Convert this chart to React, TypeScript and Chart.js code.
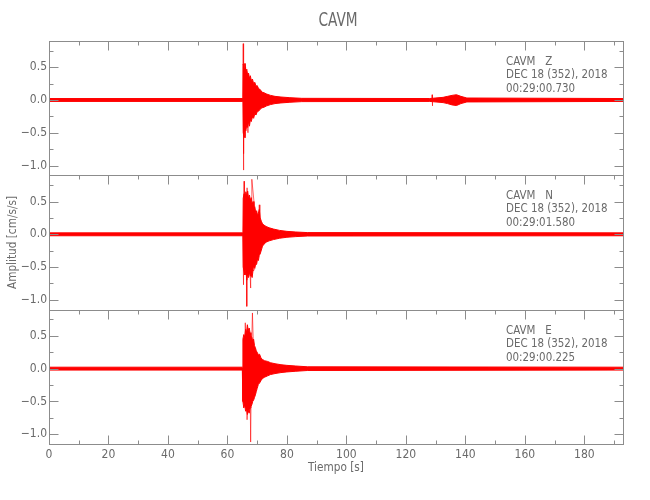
import React, { useEffect, useRef } from "react";
import { Chart, registerables } from "chart.js";

Chart.register(...registerables);

// ---- axis / labels ----
const TITLE = "CAVM";
const X_TITLE = "Tiempo [s]";
const Y_TITLE = "Amplitud [cm/s/s]";
const X_MIN = 0;
const X_MAX = 193;
const Y_MIN = -1.15;
const Y_MAX = 0.9;
const X_TICK_STEP = 20;
const Y_TICK_STEP = 0.5;

const STATION = ["CAVM   Z", "CAVM   N", "CAVM   E"];
const DATES = ["DEC 18 (352), 2018", "DEC 18 (352), 2018", "DEC 18 (352), 2018"];
const TIMES = ["00:29:00.730", "00:29:01.580", "00:29:00.225"];

// ---- Z component: dense envelope + individual spikes ----
const zT = [0, 65.2, 65.3, 65.6, 65.9, 66.2, 66.5, 66.8, 67.1, 67.4, 67.7, 68.0, 68.4, 68.8, 69.2, 69.6, 70.0, 70.5, 71.0, 71.6, 72.3, 73.2, 74.5, 76, 78, 81, 85, 128, 132.5, 134, 135.5, 137, 138.5, 140.5, 193];
const zUp = [0.022, 0.022, 0.55, 0.48, 0.56, 0.42, 0.47, 0.38, 0.41, 0.33, 0.37, 0.30, 0.32, 0.25, 0.27, 0.21, 0.22, 0.17, 0.16, 0.12, 0.11, 0.09, 0.07, 0.055, 0.045, 0.035, 0.025, 0.022, 0.04, 0.055, 0.07, 0.08, 0.055, 0.03, 0.022];
const zLo = [-0.022, -0.022, -0.50, -0.56, -0.44, -0.47, -0.38, -0.42, -0.33, -0.40, -0.30, -0.33, -0.26, -0.28, -0.21, -0.23, -0.18, -0.17, -0.14, -0.12, -0.11, -0.09, -0.07, -0.055, -0.045, -0.035, -0.025, -0.022, -0.04, -0.055, -0.075, -0.085, -0.055, -0.03, -0.022];
const zSpikeT = [65.2, 65.3, 65.35, 65.45, 65.5, 65.6, 65.9, 66.1, 66.9, 67.1, 67.3, 128.7, 128.8, 128.9, 129.0];
const zSpikeV = [0, 0.86, -1.07, 0.70, -0.82, 0.55, -0.58, 0.50, -0.50, 0.30, 0, 0, 0.08, -0.09, 0];

// ---- N component ----
const nT = [0, 65.2, 65.3, 65.6, 65.9, 66.2, 66.5, 66.8, 67.1, 67.4, 67.7, 68.0, 68.3, 68.6, 68.9, 69.2, 69.5, 69.8, 70.1, 70.4, 70.7, 71.0, 71.4, 71.8, 72.3, 73.0, 74.0, 75.5, 77.5, 80, 83, 87, 193];
const nUp = [0.022, 0.022, 0.55, 0.62, 0.50, 0.65, 0.58, 0.66, 0.55, 0.60, 0.52, 0.56, 0.45, 0.50, 0.40, 0.42, 0.33, 0.36, 0.30, 0.32, 0.38, 0.25, 0.20, 0.16, 0.14, 0.12, 0.10, 0.08, 0.06, 0.045, 0.035, 0.026, 0.022];
const nLo = [-0.022, -0.022, -0.50, -0.57, -0.62, -0.55, -0.70, -0.60, -0.66, -0.58, -0.64, -0.62, -0.66, -0.55, -0.50, -0.52, -0.45, -0.46, -0.38, -0.40, -0.32, -0.30, -0.24, -0.18, -0.15, -0.12, -0.10, -0.08, -0.06, -0.045, -0.035, -0.026, -0.022];
const nSpikeT = [65.2, 65.4, 65.6, 65.7, 66.3, 66.5, 66.6, 67.8, 68.0, 68.2, 70.5, 70.7, 70.9];
const nSpikeV = [0, -0.77, 0.81, -0.40, 0.50, -1.10, 0.71, -0.82, 0.30, 0.84, -0.25, 0.45, 0];

// ---- E component ----
const eT = [0, 65.0, 65.2, 65.5, 65.8, 66.1, 66.4, 66.7, 67.0, 67.3, 67.6, 67.9, 68.2, 68.5, 68.8, 69.1, 69.4, 69.7, 70.0, 70.4, 70.8, 71.3, 71.8, 72.5, 73.5, 74.5, 76, 78, 80, 83, 87, 193];
const eUp = [0.022, 0.022, 0.45, 0.52, 0.48, 0.60, 0.55, 0.67, 0.58, 0.62, 0.55, 0.50, 0.48, 0.42, 0.45, 0.35, 0.32, 0.27, 0.25, 0.21, 0.22, 0.16, 0.14, 0.12, 0.11, 0.09, 0.075, 0.06, 0.05, 0.04, 0.028, 0.022];
const eLo = [-0.022, -0.022, -0.50, -0.60, -0.55, -0.65, -0.62, -0.70, -0.64, -0.68, -0.60, -0.58, -0.55, -0.50, -0.48, -0.44, -0.40, -0.35, -0.30, -0.24, -0.22, -0.18, -0.15, -0.13, -0.11, -0.09, -0.075, -0.06, -0.05, -0.04, -0.028, -0.022];
const eSpikeT = [65.0, 65.8, 66.0, 66.6, 67.5, 67.8, 68.1, 68.4, 69.2, 69.4];
const eSpikeV = [0, -0.50, 0.70, -0.78, 0.30, -1.12, 0.30, 0.85, -0.40, 0];

const RED = "#ff0000";
const SPIKE = "rgba(255,0,0,0.6)";
const AXIS = "#8c8c8c";
const TEXT = "#6a6a6a";
const FONT = '"Liberation Sans Narrow", "DejaVu Sans Condensed", "Liberation Sans", sans-serif';

const pts = (t: number[], v: number[]) => t.map((x, i) => ({ x, y: v[i] }));

const traces = [
  { id: "yZ", t: zT, up: zUp, lo: zLo, st: zSpikeT, sv: zSpikeV },
  { id: "yN", t: nT, up: nUp, lo: nLo, st: nSpikeT, sv: nSpikeV },
  { id: "yE", t: eT, up: eUp, lo: eLo, st: eSpikeT, sv: eSpikeV },
];

const panelPlugin = {
  id: "panelDecor",
  afterDatasetsDraw(chart: any) {
    const ctx = chart.ctx as CanvasRenderingContext2D;
    const xs = chart.scales.x;
    ctx.save();
    ctx.strokeStyle = AXIS;
    ctx.lineWidth = 1;
    const line = (x1: number, y1: number, x2: number, y2: number) => {
      ctx.beginPath();
      ctx.moveTo(x1, y1);
      ctx.lineTo(x2, y2);
      ctx.stroke();
    };
    const L = Math.round(xs.left) + 0.5;
    const R = Math.round(xs.right) + 0.5;
    const text = (s: string, x: number, y: number, size: number, sx: number) => {
      ctx.save();
      ctx.translate(x, y);
      ctx.scale(sx, 1);
      ctx.font = `${size}px ${FONT}`;
      ctx.fillText(s, 0, 0);
      ctx.restore();
    };
    traces.forEach((tr, i) => {
      const ys = chart.scales[tr.id];
      const T = Math.round(ys.top) + 0.5;
      const B = Math.round(ys.bottom) + 0.5;
      ctx.strokeRect(L, T, R - L, B - T);
      for (let v = X_MIN; v <= X_MAX; v += 10) {
        const px = Math.round(xs.getPixelForValue(v)) + 0.5;
        const len = v % 20 === 0 ? 9 : 4;
        line(px, T, px, T + len);
        if (i === traces.length - 1) line(px, B, px, B - len);
      }
      for (let k = -4; k <= 3; k++) {
        const py = Math.round(ys.getPixelForValue(k * 0.25)) + 0.5;
        const len = k % 2 === 0 ? 9 : 4;
        line(L, py, L + len, py);
        line(R, py, R - len, py);
      }
      // annotation text
      ctx.fillStyle = TEXT;
      ctx.textAlign = "left";
      ctx.textBaseline = "middle";
      text(STATION[i], 506, ys.top + 20.5, 13, 0.88);
      text(DATES[i], 506, ys.top + 33.5, 13, 0.88);
      text(TIMES[i], 506, ys.top + 47.5, 13, 0.88);
    });
    // title
    ctx.fillStyle = TEXT;
    ctx.textAlign = "center";
    ctx.textBaseline = "middle";
    text(TITLE, (xs.left + xs.right) / 2 + 2, 21, 19, 0.8);
    // x title
    text(X_TITLE, (xs.left + xs.right) / 2, 468, 13, 0.9);
    // y title
    const yTop = chart.scales[traces[0].id].top;
    const yBot = chart.scales[traces[2].id].bottom;
    ctx.save();
    ctx.translate(13, (yTop + yBot) / 2);
    ctx.rotate(-Math.PI / 2);
    ctx.scale(0.9, 1);
    ctx.font = `13px ${FONT}`;
    ctx.fillText(Y_TITLE, 0, 0);
    ctx.restore();
    ctx.restore();
  },
};

function yScale(id: string) {
  return {
    type: "linear",
    position: "left",
    stack: "traces",
    stackWeight: 1,
    min: Y_MIN,
    max: Y_MAX,
    afterFit: (s: any) => {
      s.width = 49;
    },
    grid: { display: false, drawTicks: false },
    border: { display: false },
    ticks: {
      stepSize: Y_TICK_STEP,
      includeBounds: false,
      padding: 2,
      color: TEXT,
      font: { family: FONT, size: 12 },
      callback: (v: number) => (v < 0 ? "\u2212" + Math.abs(v).toFixed(1) : v.toFixed(1)),
    },
  };
}

export default function App() {
  const ref = useRef<HTMLCanvasElement | null>(null);
  useEffect(() => {
    if (!ref.current) return;
    const datasets: any[] = [];
    traces.forEach((tr) => {
      datasets.push({
        data: pts(tr.t, tr.up),
        yAxisID: tr.id,
        borderColor: RED,
        backgroundColor: RED,
        borderWidth: 1,
        fill: "+1",
        pointRadius: 0,
      });
      datasets.push({
        data: pts(tr.t, tr.lo),
        yAxisID: tr.id,
        borderColor: RED,
        backgroundColor: RED,
        borderWidth: 1,
        fill: false,
        pointRadius: 0,
      });
      datasets.push({
        data: pts(tr.st, tr.sv),
        yAxisID: tr.id,
        borderColor: SPIKE,
        borderWidth: 1,
        fill: false,
        pointRadius: 0,
      });
    });
    const chart = new Chart(ref.current, {
      type: "line",
      data: { datasets },
      options: {
        animation: false,
        responsive: false,
        devicePixelRatio: 1,
        layout: { padding: { top: 41, right: 27, left: 0, bottom: 0 } },
        plugins: { legend: { display: false }, tooltip: { enabled: false }, title: { display: false } },
        elements: { line: { tension: 0 }, point: { radius: 0 } },
        scales: {
          x: {
            type: "linear",
            position: "bottom",
            min: X_MIN,
            max: X_MAX,
            afterFit: (s: any) => {
              s.height = 56;
            },
            grid: { display: false, drawTicks: false },
            border: { display: false },
            ticks: {
              stepSize: X_TICK_STEP,
              includeBounds: false,
              padding: 4,
              maxRotation: 0,
              autoSkip: false,
              color: TEXT,
              font: { family: FONT, size: 12 },
            },
          },
          yE: yScale("yE"),
          yN: yScale("yN"),
          yZ: yScale("yZ"),
        } as any,
      },
      plugins: [panelPlugin],
    } as any);
    return () => chart.destroy();
  }, []);
  return (
    <div style={{ position: "absolute", left: 0, top: 0, width: 650, height: 500, background: "#fff" }}>
      <canvas ref={ref} width={650} height={500} />
    </div>
  );
}
